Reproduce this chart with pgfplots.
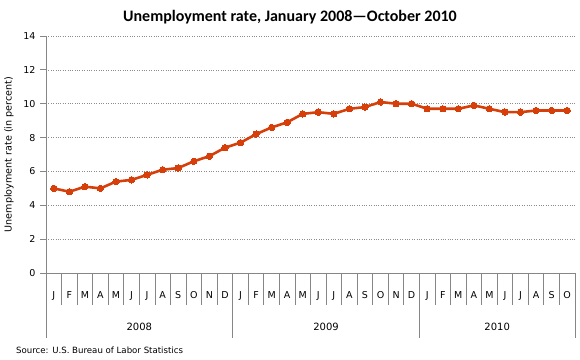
\documentclass[border=0pt]{standalone}
\usepackage{pgfplots}
\pgfplotsset{compat=1.18}
\usepackage{fontspec}
\setmainfont{DejaVu Sans}
\newfontfamily\titlefont{Carlito}
\definecolor{lineorange}{RGB}{214,62,10}
\definecolor{axgray}{RGB}{134,134,134}
\begin{document}
\begin{tikzpicture}
\path[use as bounding box] (0,0) rectangle (580bp,360bp);
\begin{axis}[
  at={(46bp,87bp)}, anchor=south west,
  scale only axis, width=529bp, height=237bp,
  xmin=0, xmax=34, ymin=0, ymax=14,
  ytick={0,2,...,14},
  axis x line*=bottom, axis y line*=left,
  axis line style={axgray, line width=0.8pt},
  x axis line style={-}, y axis line style={-},
  ymajorgrids, grid style={dotted, black!45, line width=0.5pt},
  tick align=outside,
  ytick style={axgray, line width=0.8pt},
  major tick length=6bp,
  xtick={0.5,1.5,...,33.5},
  xticklabels={J,F,M,A,M,J,J,A,S,O,N,D,J,F,M,A,M,J,J,A,S,O,N,D,J,F,M,A,M,J,J,A,S,O},
  major x tick style={draw=none},
  xticklabel style={yshift=-9bp, font=\fontsize{9.5bp}{11bp}\selectfont},
  yticklabel style={font=\fontsize{9.5bp}{11bp}\selectfont, xshift=-1bp},
  /pgf/number format/assume math mode=true,
  ylabel={Unemployment rate (in percent)},
  ylabel style={font=\fontsize{9.6bp}{11bp}\selectfont, yshift=3bp},
  clip=false,
]
\pgfplotsinvokeforeach{1,...,11,13,14,...,23,25,26,...,33}{
  \draw[axgray, line width=0.8pt] (axis cs:#1,0) -- ++(0,-32bp);
}
\pgfplotsinvokeforeach{0,12,24,34}{
  \draw[axgray, line width=0.8pt] (axis cs:#1,0) -- ++(0,-65bp);
}
\addplot[lineorange, line width=2.6pt, mark=*, mark size=3.2pt, mark options={solid, fill=lineorange, draw=lineorange, line width=0pt}] coordinates {
(0.5,5.0)(1.5,4.8)(2.5,5.1)(3.5,5.0)(4.5,5.4)(5.5,5.5)(6.5,5.8)(7.5,6.1)(8.5,6.2)(9.5,6.6)(10.5,6.9)(11.5,7.4)
(12.5,7.7)(13.5,8.2)(14.5,8.6)(15.5,8.9)(16.5,9.4)(17.5,9.5)(18.5,9.4)(19.5,9.7)(20.5,9.8)(21.5,10.1)(22.5,10.0)(23.5,10.0)
(24.5,9.7)(25.5,9.7)(26.5,9.7)(27.5,9.9)(28.5,9.7)(29.5,9.5)(30.5,9.5)(31.5,9.6)(32.5,9.6)(33.5,9.6)
};
\node[font=\fontsize{10bp}{12bp}\selectfont] at (axis cs:6,0) [yshift=-54bp] {2008};
\node[font=\fontsize{10bp}{12bp}\selectfont] at (axis cs:18,0) [yshift=-54bp] {2009};
\node[font=\fontsize{10bp}{12bp}\selectfont] at (axis cs:29,0) [yshift=-54bp] {2010};
\end{axis}
\node[font=\titlefont\bfseries\fontsize{16bp}{18bp}\selectfont] at (290bp,343bp) {Unemployment rate, January 2008—October 2010};
\node[font=\fontsize{8.6bp}{10bp}\selectfont, anchor=west, inner sep=0pt] at (16bp,10bp) {Source: U.S. Bureau of Labor Statistics};
\end{tikzpicture}
\end{document}
